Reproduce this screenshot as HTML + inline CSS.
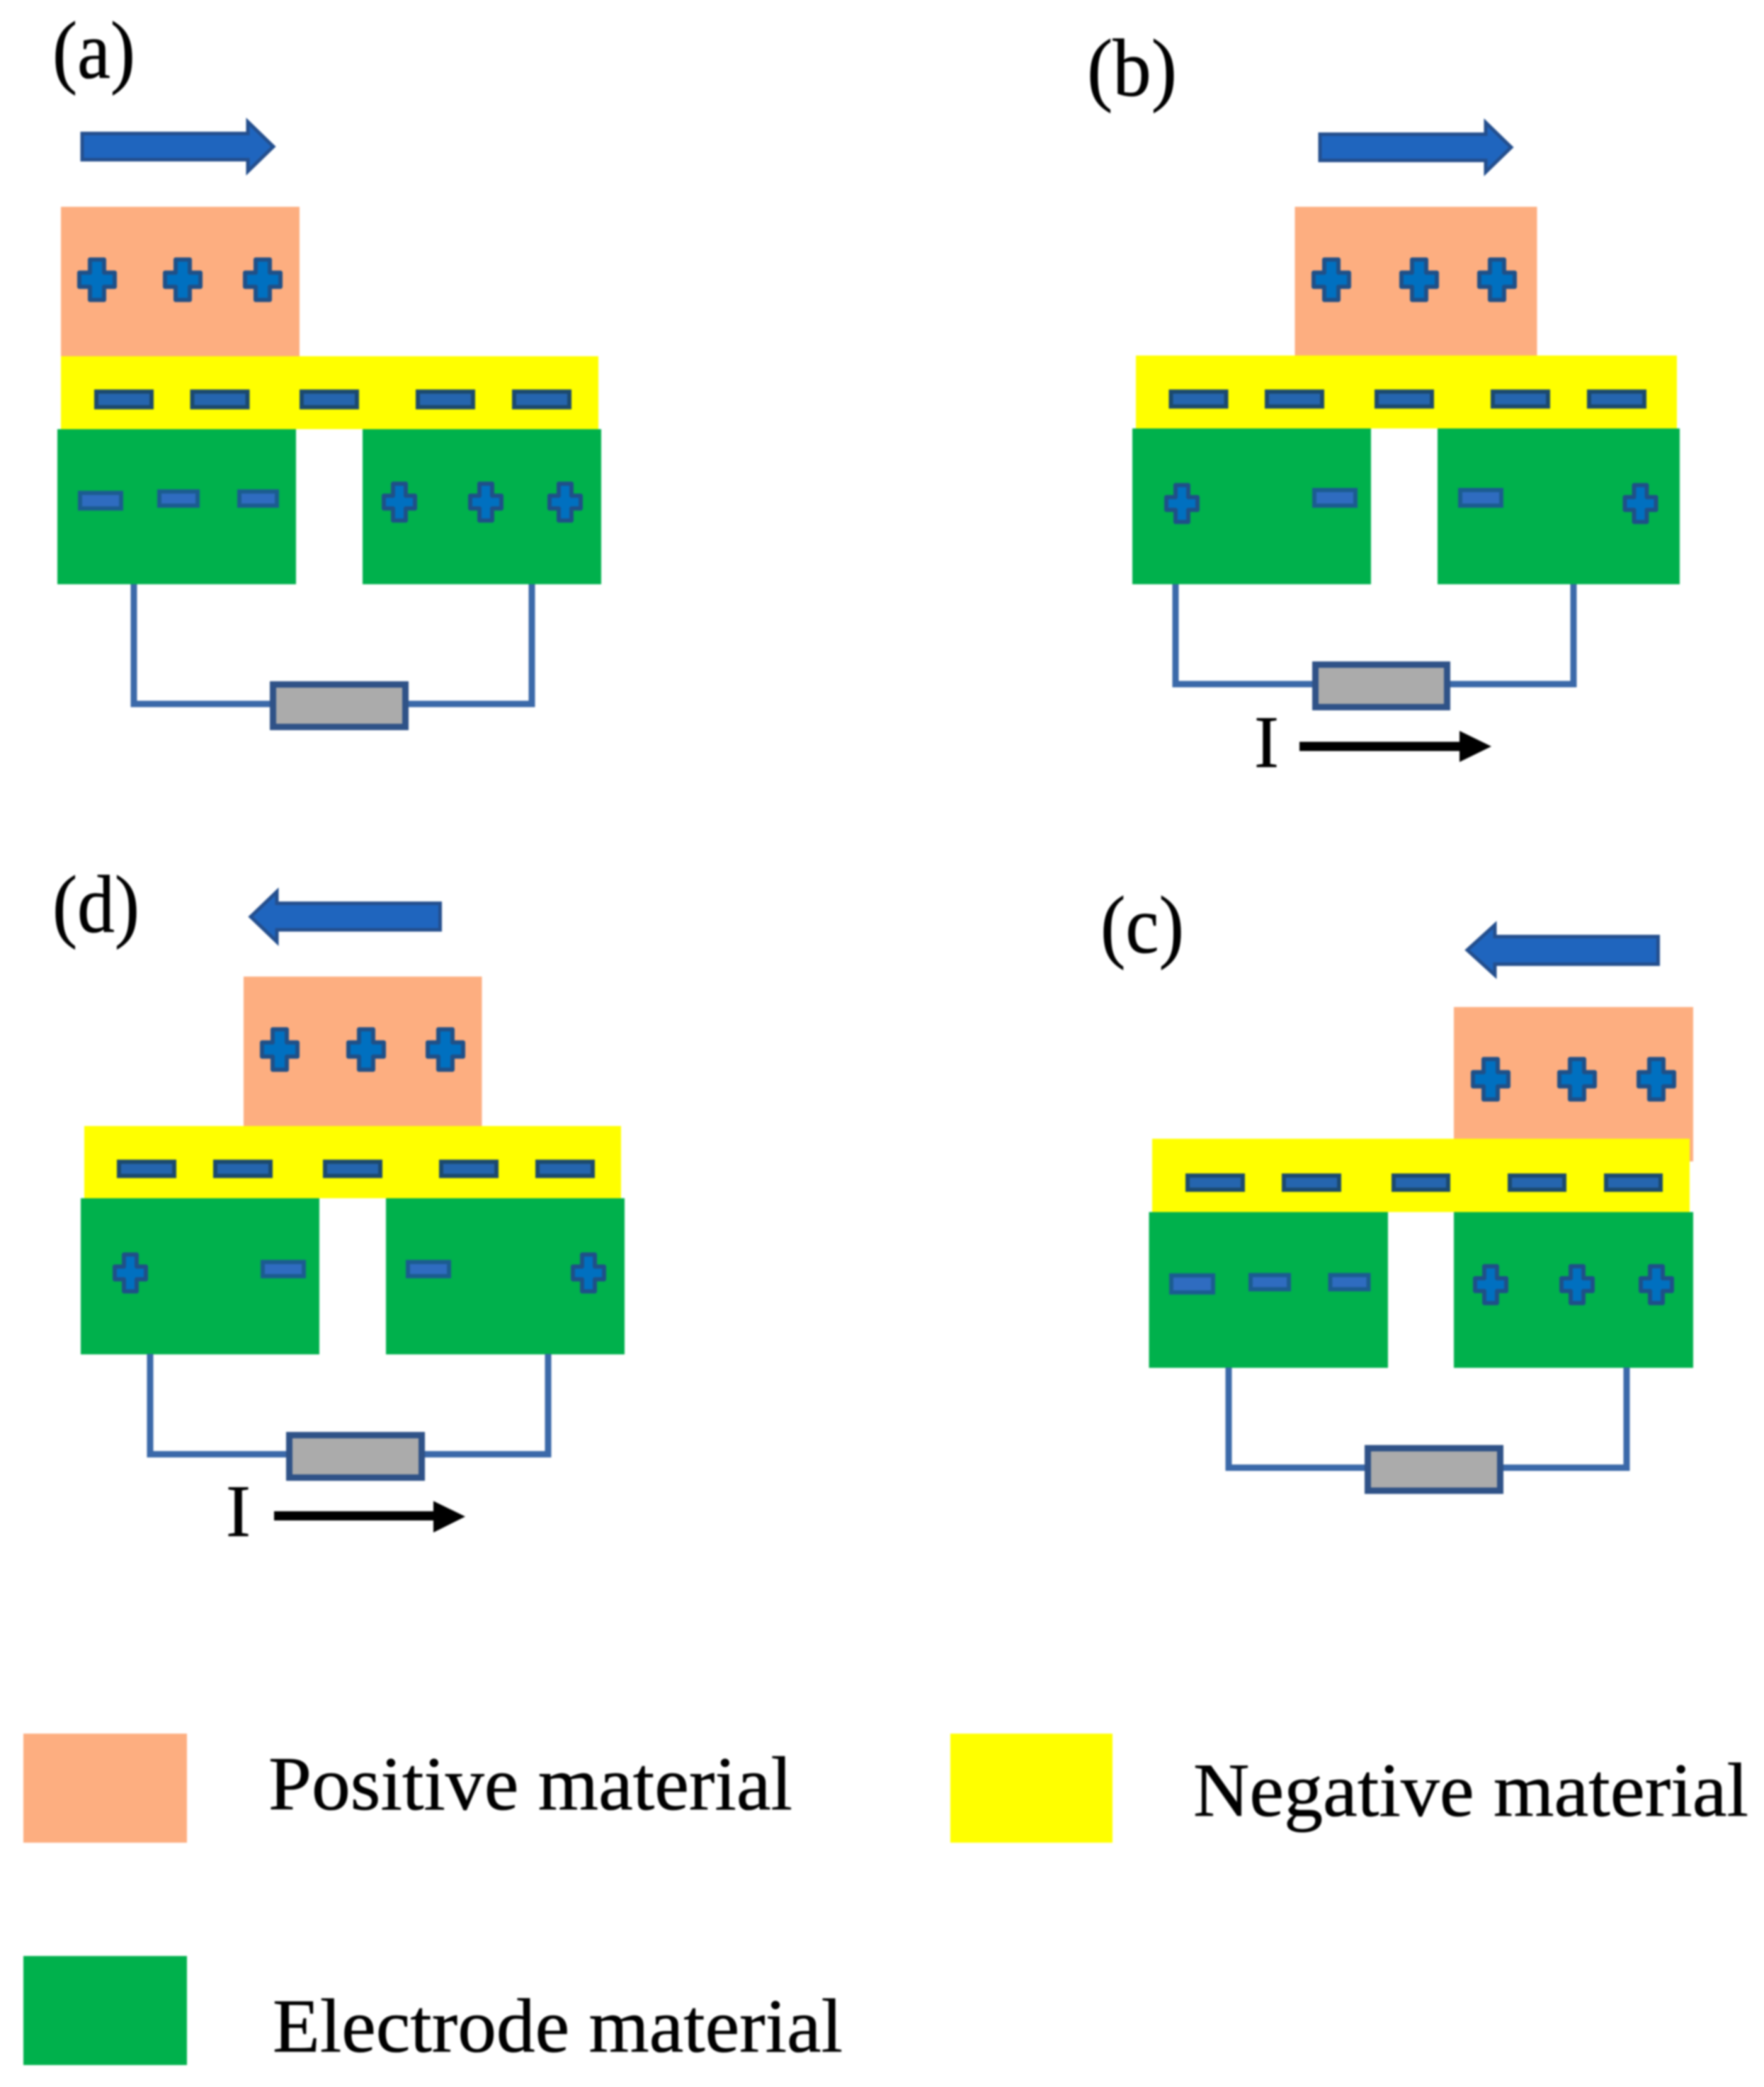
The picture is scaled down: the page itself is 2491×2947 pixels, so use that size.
<!DOCTYPE html>
<html>
<head>
<meta charset="utf-8">
<style>
html,body{margin:0;padding:0;background:#fff;width:2491px;height:2947px;overflow:hidden}
svg{display:block;filter:blur(1.2px)}
text{font-family:"Liberation Serif",serif;fill:#000;stroke:#000;stroke-width:.6}
.pe{fill:#FDAE80}.ye{fill:#FFFF00}.gr{fill:#00B14C}
.ar{fill:#1F65BE;stroke:#244F8E;stroke-width:5}
.w{fill:none;stroke:#3B69A9;stroke-width:9}
.r{fill:#ABABAB;stroke:#2F5287;stroke-width:9}
.p{fill:#0070C0;stroke:#1F5088;stroke-width:6;stroke-linejoin:round}
.my{fill:#2565AE;stroke:#1C4A6E;stroke-width:6}
.mg{fill:#2F6CC0;stroke:#1B5C90;stroke-width:6}
</style>
</head>
<body>
<svg xmlns="http://www.w3.org/2000/svg" width="2491" height="2947" viewBox="0 0 2491 2947">
<rect width="2491" height="2947" fill="#fff"/>

<!-- panel a -->
<text x="74" y="110" font-size="115" textLength="117" lengthAdjust="spacingAndGlyphs">(a)</text>
<path class="ar" d="M116 188.500H350V172L386 207L350 242V225.500H116Z"/>
<rect class="pe" x="86" y="292" width="337" height="211"/>
<rect class="ye" x="86" y="503" width="759" height="103"/>
<rect class="gr" x="81" y="606" width="337" height="219"/>
<rect class="gr" x="512" y="606" width="337" height="219"/>
<path class="p" d="M137 395m-10-28.500h20v18.500h15v20h-15v18.500h-20v-18.500h-15v-20h15z"/>
<path class="p" d="M258 395m-10-28.500h20v18.500h15v20h-15v18.500h-20v-18.500h-15v-20h15z"/>
<path class="p" d="M371 395m-10-28.500h20v18.500h15v20h-15v18.500h-20v-18.500h-15v-20h15z"/>
<rect class="my" x="136" y="553" width="78" height="22"/>
<rect class="my" x="271.500" y="553" width="78" height="22"/>
<rect class="my" x="426" y="553" width="78" height="22"/>
<rect class="my" x="590" y="553" width="78" height="22"/>
<rect class="my" x="726" y="553" width="78" height="22"/>
<rect class="mg" x="113" y="696" width="58" height="22"/>
<rect class="mg" x="225" y="694" width="54" height="20"/>
<rect class="mg" x="338" y="694" width="53" height="20"/>
<path class="p" d="M564 709m-9-26h18v17h13v18h-13v17h-18v-17h-13v-18h13z"/>
<path class="p" d="M686 709m-9-26h18v17h13v18h-13v17h-18v-17h-13v-18h13z"/>
<path class="p" d="M798 709m-9-26h18v17h13v18h-13v17h-18v-17h-13v-18h13z"/>
<path class="w" d="M189 825V994H751V825"/>
<rect class="r" x="385.500" y="966.500" width="187" height="60"/>

<!-- panel b -->
<text x="1535" y="135" font-size="115" textLength="127" lengthAdjust="spacingAndGlyphs">(b)</text>
<path class="ar" d="M1864 189.500H2098V173L2134 208L2098 243V226.500H1864Z"/>
<rect class="pe" x="1828.500" y="292" width="342" height="210"/>
<rect class="ye" x="1604" y="502" width="764" height="103"/>
<rect class="gr" x="1599" y="605" width="337" height="220"/>
<rect class="gr" x="2030" y="605" width="342" height="220"/>
<path class="p" d="M1880 395m-10-28.500h20v18.500h15v20h-15v18.500h-20v-18.500h-15v-20h15z"/>
<path class="p" d="M2004 395m-10-28.500h20v18.500h15v20h-15v18.500h-20v-18.500h-15v-20h15z"/>
<path class="p" d="M2114 395m-10-28.500h20v18.500h15v20h-15v18.500h-20v-18.500h-15v-20h15z"/>
<rect class="my" x="1653.500" y="553" width="78" height="21"/>
<rect class="my" x="1789" y="553" width="78" height="21"/>
<rect class="my" x="1944" y="553" width="78" height="21"/>
<rect class="my" x="2108" y="553" width="78" height="21"/>
<rect class="my" x="2244" y="553" width="78" height="21"/>
<path class="p" d="M1669 711m-9-26h18v17h13v18h-13v17h-18v-17h-13v-18h13z"/>
<rect class="mg" x="1856" y="692" width="58" height="22"/>
<rect class="mg" x="2062" y="692" width="58" height="22"/>
<path class="p" d="M2316.500 711m-9-26h18v17h13v18h-13v17h-18v-17h-13v-18h13z"/>
<path class="w" d="M1660 825V966H2222V825"/>
<rect class="r" x="1857.500" y="938.500" width="186" height="60"/>
<text x="1771" y="1083" font-size="105">I</text>
<path d="M1835 1047.500H2061V1032L2106 1054L2061 1076V1060.500H1835Z" fill="#000"/>

<!-- panel d -->
<text x="74" y="1316" font-size="115" textLength="123" lengthAdjust="spacingAndGlyphs">(d)</text>
<path class="ar" d="M621.500 1275.500H391V1259L354 1294.500L391 1330V1313H621.500Z"/>
<rect class="pe" x="344" y="1379" width="336.500" height="211"/>
<rect class="ye" x="119" y="1590" width="758" height="102"/>
<rect class="gr" x="114" y="1692" width="337" height="220.500"/>
<rect class="gr" x="545" y="1692" width="337" height="220.500"/>
<path class="p" d="M395 1482m-10-28.500h20v18.500h15v20h-15v18.500h-20v-18.500h-15v-20h15z"/>
<path class="p" d="M517 1482m-10-28.500h20v18.500h15v20h-15v18.500h-20v-18.500h-15v-20h15z"/>
<path class="p" d="M629 1482m-10-28.500h20v18.500h15v20h-15v18.500h-20v-18.500h-15v-20h15z"/>
<rect class="my" x="168" y="1640.500" width="78" height="20"/>
<rect class="my" x="304" y="1640.500" width="78" height="20"/>
<rect class="my" x="459" y="1640.500" width="78" height="20"/>
<rect class="my" x="623" y="1640.500" width="78" height="20"/>
<rect class="my" x="759" y="1640.500" width="78" height="20"/>
<path class="p" d="M184 1797.500m-9-26h18v17h13v18h-13v17h-18v-17h-13v-18h13z"/>
<rect class="mg" x="371" y="1782" width="58" height="20"/>
<rect class="mg" x="576" y="1782" width="58" height="20"/>
<path class="p" d="M831 1797.500m-9-26h18v17h13v18h-13v17h-18v-17h-13v-18h13z"/>
<path class="w" d="M212 1912V2053.500H774V1912"/>
<rect class="r" x="408.500" y="2026.500" width="187" height="60"/>
<text x="319" y="2169" font-size="105">I</text>
<path d="M387 2134H612V2119.500L657 2141.500L612 2164V2147H387Z" fill="#000"/>

<!-- panel c -->
<text x="1554" y="1345" font-size="115" textLength="118" lengthAdjust="spacingAndGlyphs">(c)</text>
<path class="ar" d="M2341.500 1322.500H2111V1306L2072 1341.500L2111 1377V1361.500H2341.500Z"/>
<rect class="pe" x="2053" y="1422" width="338" height="218"/>
<rect class="ye" x="1627" y="1608" width="759" height="103.500"/>
<rect class="gr" x="1622.500" y="1711.500" width="337.500" height="220"/>
<rect class="gr" x="2053" y="1711.500" width="338" height="220"/>
<path class="p" d="M2105 1524m-10-28.500h20v18.500h15v20h-15v18.500h-20v-18.500h-15v-20h15z"/>
<path class="p" d="M2227 1524m-10-28.500h20v18.500h15v20h-15v18.500h-20v-18.500h-15v-20h15z"/>
<path class="p" d="M2339 1524m-10-28.500h20v18.500h15v20h-15v18.500h-20v-18.500h-15v-20h15z"/>
<rect class="my" x="1677" y="1660" width="78" height="20"/>
<rect class="my" x="1813" y="1660" width="78" height="20"/>
<rect class="my" x="1968" y="1660" width="77" height="20"/>
<rect class="my" x="2132" y="1660" width="77" height="20"/>
<rect class="my" x="2268" y="1660" width="77" height="20"/>
<rect class="mg" x="1654" y="1801" width="59" height="24"/>
<rect class="mg" x="1766" y="1800.500" width="54" height="20"/>
<rect class="mg" x="1878.500" y="1800.500" width="54" height="20"/>
<path class="p" d="M2105 1814m-9-26h18v17h13v18h-13v17h-18v-17h-13v-18h13z"/>
<path class="p" d="M2227 1814m-9-26h18v17h13v18h-13v17h-18v-17h-13v-18h13z"/>
<path class="p" d="M2339 1814m-9-26h18v17h13v18h-13v17h-18v-17h-13v-18h13z"/>
<path class="w" d="M1735 1931V2072.500H2297V1931"/>
<rect class="r" x="1931.500" y="2045" width="187" height="60"/>

<!-- legend -->
<rect class="pe" x="33" y="2448" width="231" height="154"/>
<rect class="ye" x="1342" y="2448" width="229" height="154"/>
<rect class="gr" x="33" y="2762" width="231" height="154"/>
<text x="379" y="2555" font-size="108" textLength="740" lengthAdjust="spacingAndGlyphs">Positive material</text>
<text x="1685" y="2564" font-size="108" textLength="784" lengthAdjust="spacingAndGlyphs">Negative material</text>
<text x="385" y="2897" font-size="108" textLength="805" lengthAdjust="spacingAndGlyphs">Electrode material</text>
</svg>
</body>
</html>
